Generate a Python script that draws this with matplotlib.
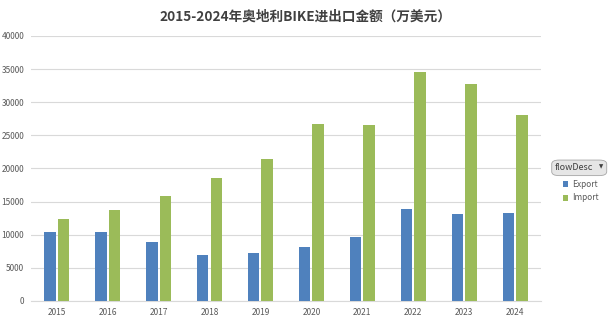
import numpy as np
import matplotlib
matplotlib.use("Agg")
import matplotlib.pyplot as plt
from matplotlib.patches import FancyBboxPatch, Rectangle

plt.rcParams['font.family'] = ['Noto Sans CJK SC', 'DejaVu Sans']

years = ["2015", "2016", "2017", "2018", "2019", "2020", "2021", "2022", "2023", "2024"]
export = [10400, 10400, 8900, 6950, 7300, 8200, 9600, 13900, 13100, 13300]
imports = [12400, 13700, 15800, 18600, 21400, 26700, 26600, 34600, 32800, 28000]

EXPORT_COLOUR = "#4F81BD"
IMPORT_COLOUR = "#9BBB59"
TEXT_COLOUR = "#595959"

fig = plt.figure(figsize=(6.11, 3.24), dpi=100)
ax = fig.add_axes([0.051, 0.071, 0.834, 0.818])

x = np.arange(len(years))
width = 0.23
ax.bar(x - width / 2 - 0.02, export, width, color=EXPORT_COLOUR, label="Export", zorder=3)
ax.bar(x + width / 2 + 0.02, imports, width, color=IMPORT_COLOUR, label="Import", zorder=3)

ax.set_xlim(-0.5, len(years) - 0.5)
ax.set_ylim(0, 40000)
ax.set_yticks(np.arange(0, 40001, 5000))
ax.set_xticks(x)
ax.set_xticklabels(years)
ax.grid(axis="y", color="#D9D9D9", linewidth=0.8, zorder=0)
for side in ["top", "right", "left"]:
    ax.spines[side].set_visible(False)
ax.spines["bottom"].set_color("#D9D9D9")
ax.tick_params(axis="both", length=0, labelsize=6, colors=TEXT_COLOUR)
ax.tick_params(axis="x", pad=5)
ax.tick_params(axis="y", pad=5)

fig.text(0.5, 0.948, "2015-2024年奥地利BIKE进出口金额（万美元）", ha="center", va="center",
        fontsize=9.8, fontweight="bold", color="#404040")

# pivot-style field button + legend
btn = FancyBboxPatch((0.903, 0.458), 0.090, 0.048, boxstyle="round,pad=0,rounding_size=0.012",
        transform=fig.transFigure, facecolor="#E6E6E6", edgecolor="#A6A6A6", linewidth=0.6)
fig.patches.append(btn)
fig.text(0.907, 0.482, "flowDesc", ha="left", va="center", fontsize=6.5, color="#404040")
fig.text(0.984, 0.484, "▼", ha="center", va="center", fontsize=4, color="#404040",
        family="DejaVu Sans")
for i, (lab, col) in enumerate([("Export", EXPORT_COLOUR), ("Import", IMPORT_COLOUR)]):
    yy = 0.432 - i * 0.043
    fig.patches.append(Rectangle((0.921, yy - 0.009), 0.009, 0.018,
            transform=fig.transFigure, facecolor=col, edgecolor="none"))
    fig.text(0.936, yy, lab, ha="left", va="center", fontsize=6, color=TEXT_COLOUR)

fig.savefig("out.png", dpi=100)
